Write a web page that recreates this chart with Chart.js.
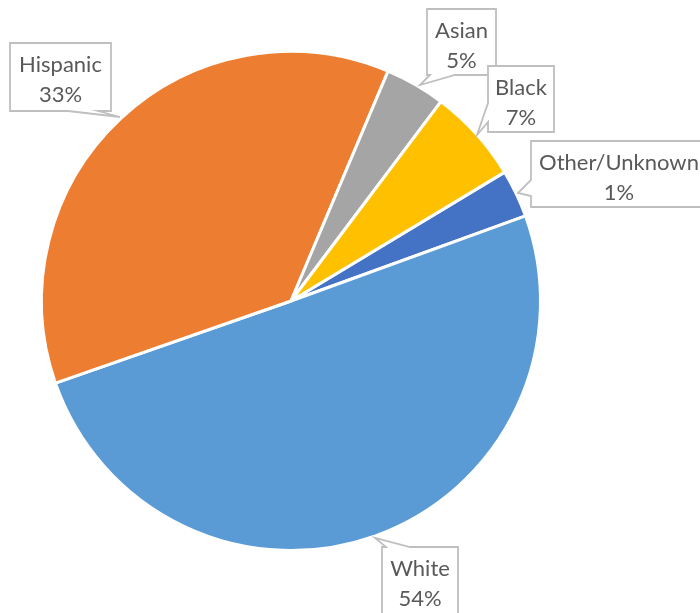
<!DOCTYPE html>
<html>
<head>
<meta charset="utf-8">
<script src="https://cdn.jsdelivr.net/npm/chart.js@4"></script>
<style>
  html, body { margin: 0; padding: 0; background: #fff; }
  #wrap { width: 700px; height: 613px; }
</style>
</head>
<body>
<div id="wrap"><canvas id="pie"></canvas></div>
<script>
// data, clockwise from the Other/Unknown slice
const categories = ["Other/Unknown", "White", "Hispanic", "Asian", "Black"];
const shares = [3.1, 50.2, 36.7, 3.9, 6.1];           // slice sizes
const shareLabels = ["1%", "54%", "33%", "5%", "7%"];  // text printed in the callouts
const colors = ["#4472C4", "#5B9BD5", "#ED7D31", "#A5A5A5", "#FFC000"];

// callout boxes: [x, y, w, h], wedge side, wedge base (a, b), tip
const callouts = [
  { box: [531, 141, 176, 66], side: "left",   base: [180, 196], tip: [518, 193] },
  { box: [382, 547, 76, 72],  side: "top",    base: [386, 410], tip: [375, 538] },
  { box: [10, 43, 101, 68],   side: "bottom", base: [68, 98],   tip: [120, 117] },
  { box: [427, 9, 69, 66],    side: "bottom", base: [430, 455], tip: [420, 85] },
  { box: [488, 66, 66, 66],   side: "left",   base: [103, 122], tip: [477, 135] }
];

function drawCallouts(chart) {
  const ctx = chart.ctx;
  ctx.save();
  callouts.forEach((c, i) => {
    const [x, y, w, h] = c.box;
    const [a, b] = c.base;
    const [tx, ty] = c.tip;
    ctx.beginPath();
    ctx.moveTo(x, y);
    if (c.side == "top") { ctx.lineTo(a, y); ctx.lineTo(tx, ty); ctx.lineTo(b, y); }
    ctx.lineTo(x + w, y);
    ctx.lineTo(x + w, y + h);
    if (c.side == "bottom") { ctx.lineTo(b, y + h); ctx.lineTo(tx, ty); ctx.lineTo(a, y + h); }
    ctx.lineTo(x, y + h);
    if (c.side == "left") { ctx.lineTo(x, b); ctx.lineTo(tx, ty); ctx.lineTo(x, a); }
    ctx.closePath();
    ctx.fillStyle = "#ffffff";
    ctx.fill();
    ctx.strokeStyle = "#BFBFBF";
    ctx.lineWidth = 1.8;
    ctx.stroke();

    ctx.fillStyle = "#595959";
    ctx.font = "22px Lato";
    ctx.textAlign = "center";
    ctx.textBaseline = "middle";
    ctx.fillText(categories[i], x + w / 2, y + 22);
    ctx.fillText(shareLabels[i], x + w / 2, y + 52);
  });
  ctx.restore();
}

const config = {
  type: 'pie',
  data: {
    labels: categories,
    datasets: [{
      data: shares,
      backgroundColor: colors,
      borderColor: '#ffffff',
      borderWidth: 3
    }]
  },
  options: {
    responsive: true,
    maintainAspectRatio: false,
    animation: false,
    rotation: 58.9,
    layout: { padding: { left: 40, right: 158, top: 50, bottom: 61 } },
    plugins: {
      legend: { display: false },
      tooltip: { enabled: false }
    }
  },
  plugins: [{ id: 'callouts', afterDatasetsDraw: drawCallouts }]
};

new Chart(document.getElementById('pie'), config);
</script>
</body>
</html>
